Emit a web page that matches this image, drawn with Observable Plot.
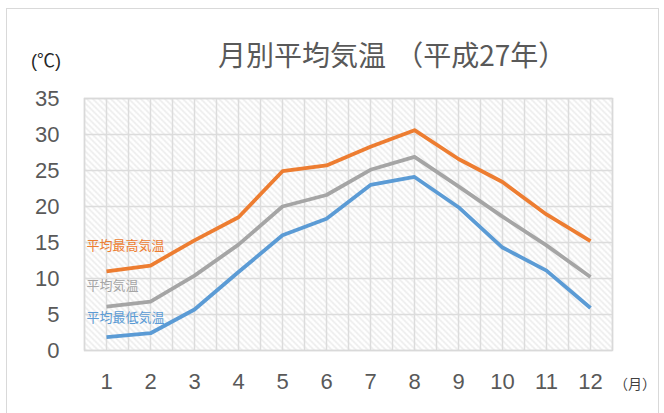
<!DOCTYPE html>
<html><head><meta charset="utf-8">
<script src="https://cdn.jsdelivr.net/npm/d3@7"></script>
<script src="https://cdn.jsdelivr.net/npm/@observablehq/plot@0.6"></script>
<style>
body{margin:0;background:#fff;font-family:"Noto Sans CJK JP","Liberation Sans",sans-serif;}
#wrap{position:relative;width:664px;height:413px;overflow:hidden;}
#border{position:absolute;left:6px;top:8px;width:653px;height:430px;border:1px solid #d9d9d9;box-sizing:border-box;}
#title{position:absolute;left:218px;top:39px;font-size:28px;line-height:30px;color:#595959;white-space:pre;}
#title span.b{margin-left:0.33em;}
#unitY{position:absolute;left:31px;top:51px;font-size:18px;line-height:20px;color:#262626;font-family:"Liberation Sans","Noto Sans CJK JP",sans-serif;}
#unitX{position:absolute;left:614px;top:373px;font-size:14px;color:#404040;}
#chart{position:absolute;left:0;top:0;}
</style></head>
<body>
<div id="wrap">
<div id="border"></div>
<div id="chart"></div>
<div id="title"><span class="a"></span><span class="b"></span></div>
<div id="unitY">(℃)</div>
<div id="unitX">（月）</div>
</div>
<script>
const titleMain = "月別平均気温";
const titleSub = "（平成27年）";
const months = [1,2,3,4,5,6,7,8,9,10,11,12];
const highTemps = [11.0, 11.8, 15.3, 18.5, 24.9, 25.7, 28.3, 30.6, 26.6, 23.4, 18.9, 15.2];
const avgTemps  = [6.1, 6.8, 10.4, 14.7, 20.0, 21.6, 25.1, 26.9, 22.8, 18.6, 14.6, 10.2];
const lowTemps  = [1.85, 2.4, 5.7, 10.9, 16.0, 18.3, 23.0, 24.1, 19.9, 14.3, 11.1, 5.9];
const seriesNames = ["平均最高気温", "平均気温", "平均最低気温"];
const seriesColors = ["#ED7D31", "#A5A5A5", "#5B9BD5"];
const yTicks = [0,5,10,15,20,25,30,35];

document.querySelector("#title .a").textContent = titleMain;
document.querySelector("#title .b").textContent = titleSub;

const seriesValues = [highTemps, avgTemps, lowTemps];
const data = [];
seriesValues.forEach((vals, si) => vals.forEach((v, i) => data.push({month: months[i], temp: v, series: seriesNames[si]})));
const firsts = seriesNames.map((s, si) => ({month: months[0], temp: seriesValues[si][0], series: s}));
const labelDy = [-25, -20.5, -19];
const vGrid = d3.range(0.5, 12.51, 0.5);

const plot = Plot.plot({
  width: 664, height: 413,
  marginLeft: 84, marginRight: 52, marginTop: 98, marginBottom: 63,
  style: {fontFamily: "'Liberation Sans', sans-serif", color: "#595959", background: "transparent"},
  x: {domain: [0.5, 12.5]},
  y: {domain: [0, 35]},
  color: {domain: seriesNames, range: seriesColors},
  marks: [
    Plot.frame({fill: "url(#hatch)"}),
    Plot.ruleX(vGrid, {stroke: "#dcdcdc", strokeWidth: 1.5}),
    Plot.ruleY(yTicks, {stroke: "#dcdcdc", strokeWidth: 1.5}),
    Plot.frame({stroke: "#d9d9d9", strokeWidth: 1.5}),
    Plot.axisY({ticks: yTicks, tickSize: 0, tickPadding: 25, fontSize: 22, label: null}),
    Plot.axisX({ticks: months, tickSize: 0, tickPadding: 23, fontSize: 22, label: null}),
    Plot.line(data, {x: "month", y: "temp", z: "series", stroke: "series", strokeWidth: 3.8, strokeLinejoin: "round", strokeLinecap: "butt"}),
    ...firsts.map((d, i) => Plot.text([d], {x: "month", y: "temp", text: "series", fill: seriesColors[i], textAnchor: "start", dx: -20, dy: labelDy[i], fontSize: 13, fontFamily: "'Noto Sans CJK JP', sans-serif"}))
  ]
});

const defs = d3.select(plot).insert("defs", ":first-child");
const pat = defs.append("pattern").attr("id", "hatch").attr("patternUnits", "userSpaceOnUse").attr("width", 6).attr("height", 6);
pat.append("rect").attr("width", 6).attr("height", 6).attr("fill", "#ffffff");
pat.append("path").attr("d", "M-1,-1 L7,7 M-1,5 L1,7 M5,-1 L7,1").attr("stroke", "#dedede").attr("stroke-width", 1.4).attr("stroke-dasharray", "1.4,0.7");
document.getElementById("chart").appendChild(plot);
</script>
</body></html>
